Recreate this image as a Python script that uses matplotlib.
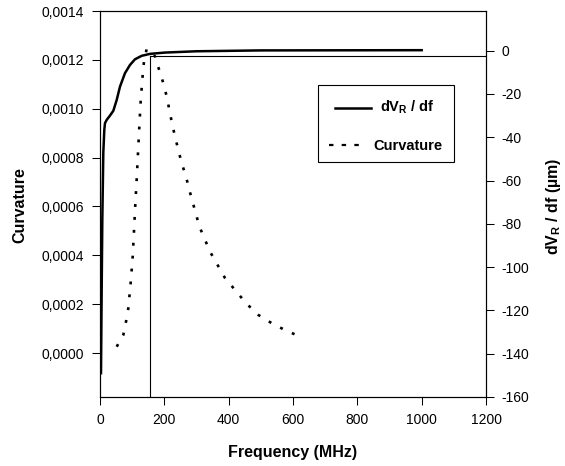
import matplotlib
matplotlib.use("Agg")
import matplotlib.pyplot as plt
from matplotlib.ticker import FuncFormatter
from matplotlib.patches import Rectangle
from matplotlib.lines import Line2D

plt.rcParams['font.family'] = ['Liberation Sans', 'DejaVu Sans']

# ==== data ====
# dV_R/df (right axis, µm)
freq_dv = [3.1, 5.3, 7.2, 10.3, 13.4, 15.5, 20.8, 31.1, 41.4, 51.9, 62.2, 77.7, 93.3,
           108.8, 129.6, 155.5, 202, 300, 500, 1000]
dv_df = [-149, -109, -78, -47, -36.6, -33.5, -32.0, -30.0, -27.8, -22.8, -16.6, -10.4,
         -6.6, -4.0, -2.4, -1.5, -0.9, -0.3, 0.1, 0.2]

# curvature (left axis)
freq_curv = [51.9, 72.4, 80.8, 88.0, 95.4, 101.7, 105.7, 109.7, 114.1, 118.1, 122.2,
             126.5, 129.6, 132.8, 136.8, 145.2, 171, 184.4, 196.8, 207.4, 215.5, 223.8,
             233.2, 243.4, 254, 267.4, 277.6, 309, 342, 389, 420, 454, 492, 534, 575, 617]
curvature = [0.0000258, 0.0000738, 0.000128, 0.000183, 0.000288, 0.000395, 0.0005,
              0.000607, 0.000712, 0.000818, 0.000925, 0.001033, 0.001085, 0.001139,
              0.001194, 0.001245, 0.001214, 0.001157, 0.001105, 0.00105, 0.000996,
              0.000941, 0.000886, 0.000832, 0.000777, 0.000722, 0.000668, 0.000518,
              0.000415, 0.000306, 0.000258, 0.000204, 0.000156, 0.000122, 0.000094,
              0.00007]

# marker lines (left axis units)
peak_freq = 155
peak_level = 0.001214

fig = plt.figure(figsize=(5.65, 4.66), dpi=100)
ax = fig.add_axes([100 / 565, 69 / 466, 386 / 565, 386 / 466])
ax2 = ax.twinx()

ax.set_xlim(0, 1200)
ax.set_ylim(-0.00018, 0.0014)
ax2.set_ylim(-160, 18.3)

ax.plot(freq_curv, curvature, color='black', lw=1.9, linestyle=(0, (1.1, 3.8)))
ax2.plot(freq_dv, dv_df, color='black', lw=1.8, solid_joinstyle='round')

ax.plot([peak_freq, peak_freq], [-0.00018, peak_level], color='black', lw=0.8)
ax.plot([peak_freq, 1200], [peak_level, peak_level], color='black', lw=0.8)

ax.set_xticks(range(0, 1201, 200))
ax.set_yticks([i * 0.0002 for i in range(8)])
ax.yaxis.set_major_formatter(FuncFormatter(lambda v, p: f"{v:.4f}".replace('.', ',')))
ax2.set_yticks(range(-160, 1, 20))
ax2.yaxis.set_major_formatter(FuncFormatter(lambda v, p: f"{int(v)}"))

for a in (ax, ax2):
    a.tick_params(direction='out', length=5.8, width=0.75, labelsize=10,
                  colors='black', pad=5.5)
    for s in a.spines.values():
        s.set_linewidth(0.8)
ax.tick_params(axis='x', pad=6)

ax.set_xlabel('Frequency (MHz)', fontsize=11.5, fontweight='bold', va='center')
ax.xaxis.set_label_coords(0.5, -0.1425)
ax.set_ylabel('Curvature', fontsize=11.5, fontweight='bold', va='center')
ax.yaxis.set_label_coords(-0.208, 0.497)
ax2.set_ylabel('dV$_\\mathregular{R}$ / df (µm)', fontsize=11.5, fontweight='bold',
               va='center')
ax2.yaxis.set_label_coords(1.1736, 0.495)

# hand-built legend box (centered texts as in the original)
def fx(px):
    return (px - 100) / 386


def fy(py):
    return (397 - py) / 386


ax.add_patch(Rectangle((fx(318.3), fy(162.3)), fx(454) - fx(318.3), fy(85) - fy(162.3),
                       transform=ax.transAxes, fill=True, facecolor='white',
                       edgecolor='black', lw=0.8, zorder=5))
ax.add_line(Line2D([fx(335), fx(370.7)], [fy(108.3), fy(108.3)], transform=ax.transAxes,
                   color='black', lw=1.8, zorder=6))
ax.add_line(Line2D([fx(329), fx(360)], [fy(145), fy(145)], transform=ax.transAxes,
                   color='black', lw=1.6, linestyle=(0, (2.0, 3.7)), zorder=6))
ax.text(fx(407), fy(111.7), 'dV$_\\mathregular{R}$ / df', transform=ax.transAxes,
        ha='center', va='baseline', fontsize=10.5, fontweight='bold', zorder=7)
ax.text(fx(407.7), fy(150), 'Curvature', transform=ax.transAxes,
        ha='center', va='baseline', fontsize=10.5, fontweight='bold', zorder=7)

fig.savefig('out.png', dpi=100)
